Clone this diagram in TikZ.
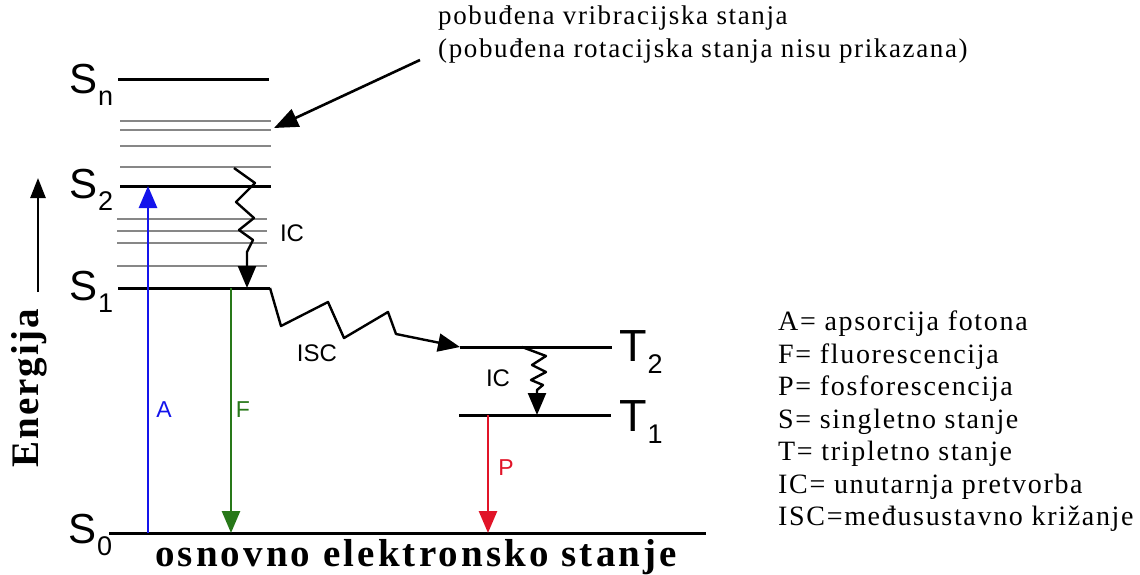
\documentclass[tikz,border=0pt]{standalone}
\usepackage{fontspec}
\setmainfont{Liberation Serif}
\setsansfont{Liberation Sans}
\newfontfamily\legfont[LetterSpace=6]{Liberation Serif}
\newfontfamily\widefont[LetterSpace=8]{Liberation Serif}
\newfontfamily\enfont[LetterSpace=5]{Liberation Serif}
\usetikzlibrary{arrows.meta}
\newcommand{\lvl}[2]{#1\kern1pt\raisebox{-12pt}{\fontsize{27}{27}\selectfont #2}}
\definecolor{absblue}{RGB}{20,20,235}
\definecolor{flgreen}{RGB}{40,120,25}
\definecolor{phred}{RGB}{225,20,40}
\definecolor{vibgray}{RGB}{135,135,135}
\tikzset{
  level/.style={line width=3pt},
  vib/.style={line width=2.6pt, vibgray},
  trans/.style={line width=2.6pt, -{Triangle[length=22pt,width=18pt]}},
  wig/.style={line width=2.4pt, line join=round, -{Triangle[length=22pt,width=18pt]}},
  st/.style={font=\sffamily\fontsize{42}{42}\selectfont, inner sep=0pt, anchor=base west},
  tt/.style={font=\sffamily\fontsize{45}{45}\selectfont, inner sep=0pt, anchor=base west},
  proc/.style={font=\sffamily\fontsize{24}{24}\selectfont, inner sep=0pt},
  tlab/.style={font=\sffamily\fontsize{23}{23}\selectfont, inner sep=0pt}
}
\begin{document}
\begin{tikzpicture}[x=1pt,y=-1pt]
  \useasboundingbox (0,0) rectangle (1140,575);
  % singlet levels
  \draw[level] (118,80) -- (269,80);
  \draw[vib] (120,121) -- (271,121);
  \draw[vib] (120,130) -- (271,130);
  \draw[vib] (120,146) -- (271,146);
  \draw[vib] (120,167) -- (271,167);
  \draw[level] (120,186) -- (271,186);
  \draw[vib] (117,219) -- (267,219);
  \draw[vib] (117,231) -- (267,231);
  \draw[vib] (117,243) -- (267,243);
  \draw[vib] (117,266) -- (267,266);
  \coordinate (s1r) at (270,288);
  \draw[level] (118,288) -- (s1r);
  \draw[level] (109,533) -- (706,533);
  % triplet levels
  \coordinate (t2l) at (460,347);
  \draw[level] (t2l) -- (612,347);
  \draw[level] (459,415) -- (611,415);
  % level names
  \node[st] (sn) at (69,94) {\lvl{S}{n}};
  \node[st] (s2) at (69,198) {\lvl{S}{2}};
  \node[st] (s1) at (69,300) {\lvl{S}{1}};
  \node[st] (s0) at (68,543) {\lvl{S}{0}};
  \node[tt] (t2) at (619,361) {\lvl{T}{2}};
  \node[tt] (t1) at (619,431) {\lvl{T}{1}};
  % radiative transitions
  \coordinate (abot) at (148,533);
  \coordinate (atop) at (148,186);
  \draw[trans,absblue] (abot) -- (atop);
  \coordinate (ftop) at (231,288);
  \coordinate (fbot) at (231,533);
  \draw[trans,flgreen] (ftop) -- (fbot);
  \coordinate (ptop) at (488,415);
  \coordinate (pbot) at (488,533);
  \draw[trans,phred] (ptop) -- (pbot);
  \node[tlab,absblue] (a) at (164,410) {A};
  \node[tlab,flgreen] (f) at (243,410) {F};
  \node[tlab,phred] (p) at (506,468) {P};
  % non-radiative transitions
  \coordinate (ic1s) at (234,168);
  \coordinate (ic1e) at (247,288);
  \draw[wig] (ic1s) -- (255,183) -- (236,202) -- (254,218) -- (239,230)
    -- (253,240) -- (247,252) -- (ic1e);
  \node[proc] (ic1) at (292,233) {IC};
  \draw[wig] (s1r) -- (281,326) -- (328,302) -- (344,338) -- (388,312)
    -- (396,334) -- (t2l);
  \node[proc] (isc) at (317,353) {ISC};
  \coordinate (ic2s) at (522,347);
  \coordinate (ic2e) at (537,415);
  \draw[wig] (ic2s) -- (546,356) -- (532,365) -- (546,372) -- (531,380)
    -- (543,385) -- (537,390) -- (ic2e);
  \node[proc] (ic2) at (498,378) {IC};
  % annotation
  \node[font=\legfont\fontsize{27}{33}\selectfont, align=left, inner sep=0pt,
    anchor=north west] (note) at (438,6)
    {pobuđena vribracijska stanja\\(pobuđena rotacijska stanja nisu prikazana)};
  \coordinate (nt) at (274,128);
  \draw[line width=2.6pt, -{Triangle[length=24pt,width=19pt]}] (420,60) -- (nt);
  % energy axis
  \coordinate (eb) at (38,292);
  \coordinate (et) at (38,178);
  \draw[line width=2.6pt, -{Triangle[length=20pt,width=15pt]}] (eb) -- (et);
  \node[font=\enfont\bfseries\fontsize{39}{39}\selectfont, rotate=90, inner sep=0pt]
    (en) at (29,388) {Energija};
  \node[font=\widefont\bfseries\fontsize{39}{39}\selectfont, inner sep=0pt,
    anchor=base west] (gs) at (155,566) {osnovno elektronsko stanje};
  % legend
  \node[font=\legfont\fontsize{28}{32.5}\selectfont, align=left, inner sep=0pt,
    anchor=north west] (leg) at (778,311)
    {A= apsorcija fotona\\F= fluorescencija\\P= fosforescencija\\S= singletno stanje\\
     T= tripletno stanje\\IC= unutarnja pretvorba\\ISC=međusustavno križanje};
\end{tikzpicture}
\end{document}
